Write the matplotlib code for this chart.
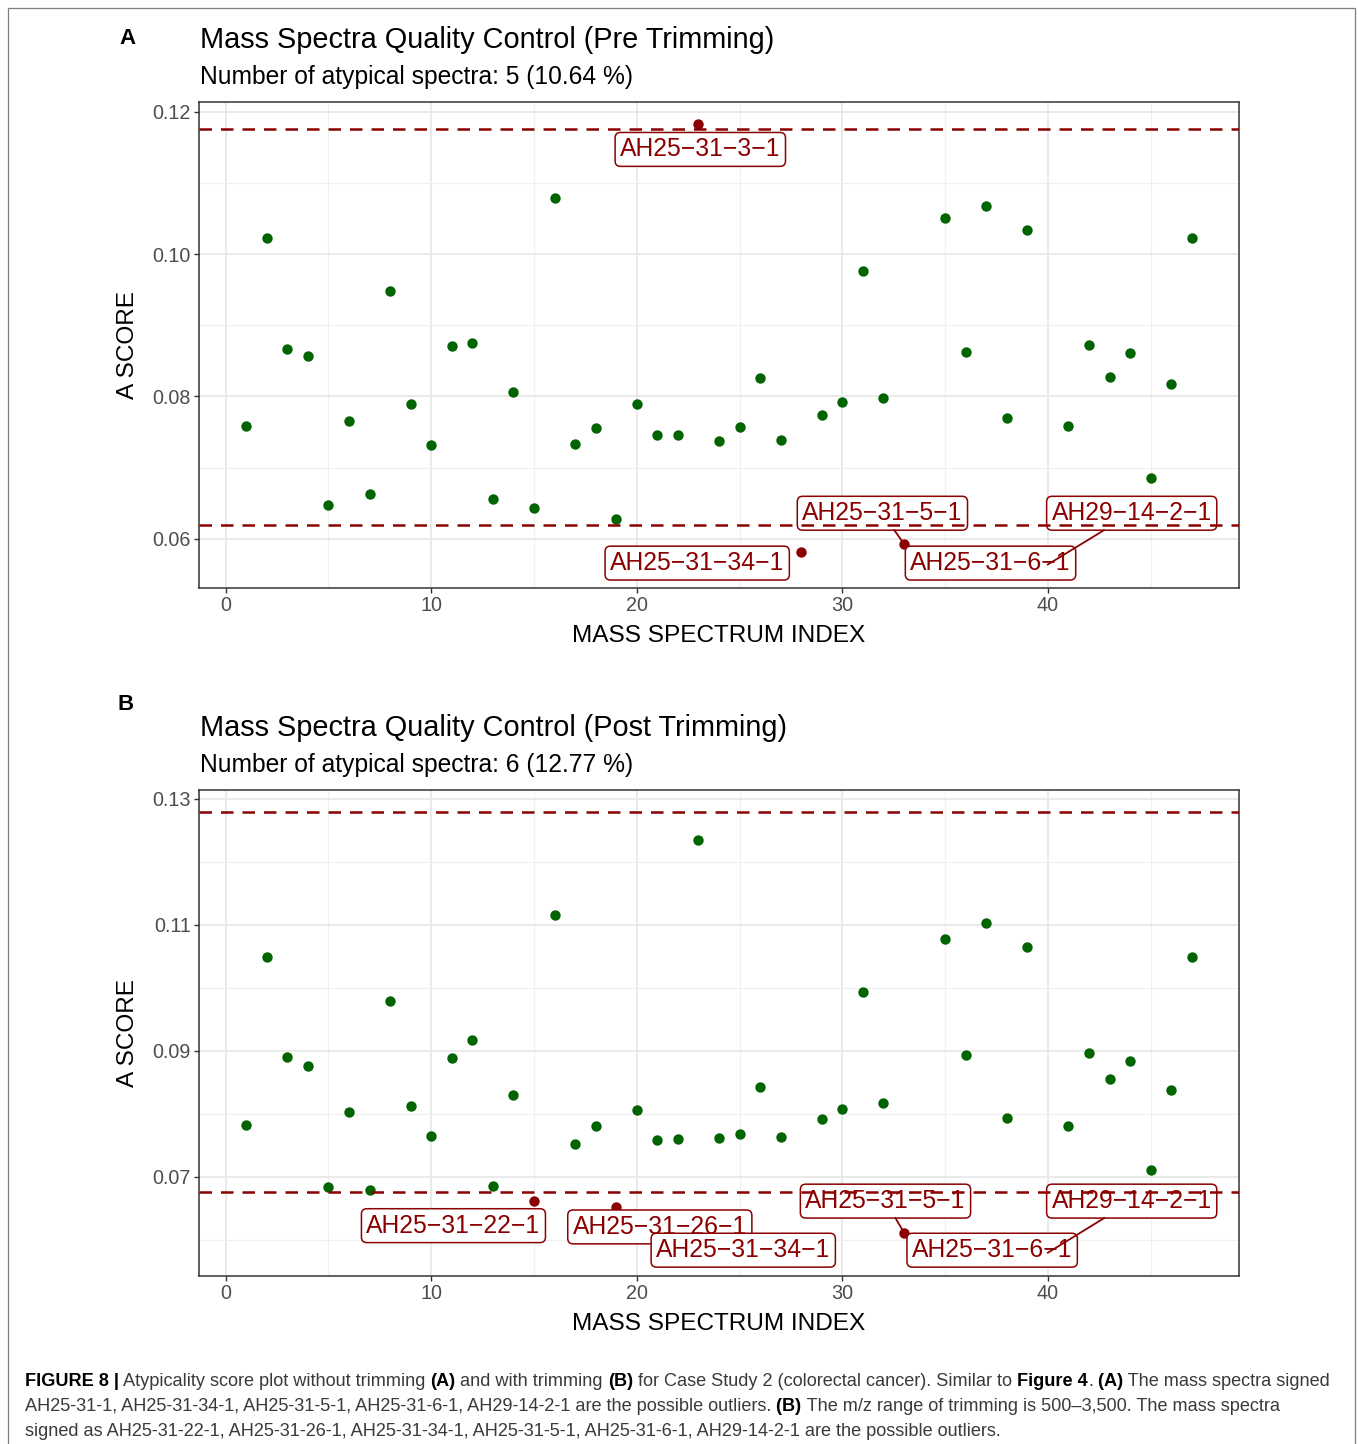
import matplotlib.pyplot as plt
from matplotlib.patches import Rectangle
from matplotlib.ticker import MultipleLocator

plt.rcParams['font.family'] = ['Liberation Sans', 'DejaVu Sans']

# A scores of the 47 spectra, before and after m/z trimming
spectrum_index = list(range(1, 48))
pre_score = [0.0759, 0.1023, 0.0867, 0.0857, 0.0647, 0.0766, 0.0663, 0.0948, 0.0789, 0.0732,
             0.0871, 0.0875, 0.0656, 0.0806, 0.0644, 0.1079, 0.0733, 0.0756, 0.0628, 0.0789,
             0.0746, 0.0746, 0.1183, 0.0737, 0.0757, 0.0826, 0.0739, 0.0582, 0.0774, 0.0792,
             0.0976, 0.0798, 0.0593, 0.0578, 0.1050, 0.0863, 0.1067, 0.0770, 0.1034, 0.0564,
             0.0759, 0.0872, 0.0828, 0.0861, 0.0686, 0.0817, 0.1023]
post_score = [0.0782, 0.1049, 0.0890, 0.0875, 0.0683, 0.0802, 0.0679, 0.0979, 0.0812, 0.0765,
              0.0888, 0.0917, 0.0685, 0.0830, 0.0661, 0.1116, 0.0752, 0.0780, 0.0652, 0.0806,
              0.0758, 0.0760, 0.1235, 0.0762, 0.0768, 0.0842, 0.0763, 0.0586, 0.0792, 0.0807,
              0.0994, 0.0817, 0.0611, 0.0584, 0.1077, 0.0893, 0.1103, 0.0793, 0.1065, 0.0579,
              0.0780, 0.0897, 0.0855, 0.0884, 0.0710, 0.0837, 0.1049]

# lower / upper cut-offs
pre_limits = [0.0620, 0.1175]
post_limits = [0.0676, 0.1279]

# names of the atypical spectra
pre_outlier_idx = [23, 28, 33, 34, 40]
pre_outlier_names = ['AH25-31-3-1', 'AH25-31-34-1', 'AH25-31-5-1', 'AH25-31-6-1', 'AH29-14-2-1']
post_outlier_idx = [15, 19, 28, 33, 34, 40]
post_outlier_names = ['AH25-31-22-1', 'AH25-31-26-1', 'AH25-31-34-1', 'AH25-31-5-1',
                      'AH25-31-6-1', 'AH29-14-2-1']

# where the repelled labels ended up, and which ones got a leader line
pre_label_pos = [(23.09, 0.1147), (22.94, 0.0566), (31.95, 0.0636), (37.21, 0.0566), (44.08, 0.0636)]
pre_leader = [False, False, True, False, True]
post_label_pos = [(11.08, 0.0622), (21.12, 0.0620), (25.18, 0.0583), (32.10, 0.0661),
                  (37.29, 0.0583), (44.08, 0.0661)]
post_leader = [False, False, False, True, False, True]

GREEN = '#006400'
RED = '#8B0000'

W, H = 1358, 1444
fig = plt.figure(figsize=(W / 100, H / 100), dpi=100)


def fx(px):
    return px / W


def fy(py):
    return 1 - py / H


def qc_panel(top, score, limits, out_idx, out_names, label_pos, leader, ylim, yticks, yminor):
    ax = fig.add_axes([fx(199), fy(top + 486), fx(1040), 486 / H])
    ok_x = [i for i, s in zip(spectrum_index, score) if limits[0] <= s <= limits[1]]
    ok_y = [s for s in score if limits[0] <= s <= limits[1]]
    bad_x = [i for i, s in zip(spectrum_index, score) if not limits[0] <= s <= limits[1]]
    bad_y = [s for s in score if not limits[0] <= s <= limits[1]]
    ax.scatter(ok_x, ok_y, s=56, color=GREEN, linewidths=0, zorder=3)
    ax.scatter(bad_x, bad_y, s=56, color=RED, linewidths=0, zorder=3)
    for lim in limits:
        ax.axhline(lim, color=RED, lw=1.8, ls=(0, (5, 3.6)), zorder=6)

    ax.set_xlim(-1.3, 49.3)
    ax.set_ylim(*ylim)
    ax.xaxis.set_major_locator(MultipleLocator(10))
    ax.xaxis.set_minor_locator(MultipleLocator(5))
    ax.set_yticks(yticks)
    ax.set_yticklabels([f'{v:.2f}' for v in yticks])
    ax.set_yticks(yminor, minor=True)
    ax.grid(which='major', color='#E8E8E8', lw=1.3, zorder=0)
    ax.grid(which='minor', color='#F0F0F0', lw=0.8, zorder=0)
    ax.set_axisbelow(True)
    ax.tick_params(which='major', length=3.5, width=1, color='#333333',
                   labelsize=14.2, labelcolor='#4D4D4D', pad=2.5)
    ax.tick_params(which='minor', length=0)
    for sp in ax.spines.values():
        sp.set_color('#333333')
        sp.set_linewidth(1.1)

    labels = []
    for name, (lx, ly) in zip(out_names, label_pos):
        t = ax.text(lx, ly, name.replace('-', '\u2212'), ha='center', va='center', color=RED,
                    fontsize=17.8, zorder=4,
                    bbox=dict(boxstyle='round,pad=0.2,rounding_size=0.22', fc='white',
                              ec=RED, lw=1.1))
        labels.append(t)

    # leader segments from the label edge to its point
    fig.canvas.draw()
    r = fig.canvas.get_renderer()
    for t, i, (lx, ly), lead in zip(labels, out_idx, label_pos, leader):
        if not lead:
            continue
        bb = t.get_bbox_patch().get_window_extent(r)
        cx, cy = ax.transData.transform((lx, ly))
        px, py = ax.transData.transform((i, score[i - 1]))
        dx, dy = px - cx, py - cy
        k = min(bb.width / 2 / abs(dx) if dx else 1e9, bb.height / 2 / abs(dy) if dy else 1e9)
        sx, sy = ax.transData.inverted().transform((cx + dx * k, cy + dy * k))
        ax.plot([sx, i], [sy, score[i - 1]], color=RED, lw=1.3, zorder=5)
    return ax, len(bad_x)


ax_a, n_a = qc_panel(102, pre_score, pre_limits, pre_outlier_idx, pre_outlier_names,
                     pre_label_pos, pre_leader, (0.0531, 0.12136), [0.06, 0.08, 0.10, 0.12],
                     [0.07, 0.09, 0.11])
ax_b, n_b = qc_panel(790, post_score, post_limits, post_outlier_idx, post_outlier_names,
                     post_label_pos, post_leader, (0.0542, 0.13143), [0.07, 0.09, 0.11, 0.13],
                     [0.06, 0.08, 0.10, 0.12])

# titles, axis names and panel letters
for off, word, n in [(0, 'Pre', n_a), (688, 'Post', n_b)]:
    fig.text(fx(200), fy(48 + off), f'Mass Spectra Quality Control ({word} Trimming)',
             fontsize=20.8, va='baseline')
    pct = n / len(spectrum_index) * 100
    fig.text(fx(200), fy(84 + off), f'Number of atypical spectra: {n} ({pct:.2f} %)',
             fontsize=17.7, va='baseline')
    fig.text(fx(719), fy(642 + off), 'MASS SPECTRUM INDEX', fontsize=17.6, ha='center',
             va='baseline')
    fig.text(fx(128), fy(345 + off), 'A SCORE', fontsize=17.6, rotation=90, ha='center',
             va='center')
fig.text(fx(128), fy(38), 'A', fontsize=16, fontweight='bold', ha='center', va='center')
fig.text(fx(126), fy(705), 'B', fontsize=16, fontweight='bold', ha='center', va='center')

# caption with bold runs
caption = [
    [('FIGURE 8 |', True), (' Atypicality score plot without trimming ', False), ('(A)', True),
     (' and with trimming ', False), ('(B)', True),
     (' for Case Study 2 (colorectal cancer). Similar to ', False), ('Figure 4', True),
     ('.', False), (' (A)', True), (' The mass spectra signed', False)],
    [('AH25-31-1, AH25-31-34-1, AH25-31-5-1, AH25-31-6-1, AH29-14-2-1 are the possible outliers.',
      False), (' (B)', True), (' The m/z range of trimming is 500\u20133,500. The mass spectra', False)],
    [('signed as AH25-31-22-1, AH25-31-26-1, AH25-31-34-1, AH25-31-5-1, AH25-31-6-1, '
      'AH29-14-2-1 are the possible outliers.', False)],
]
r = fig.canvas.get_renderer()
for line, base in zip(caption, [1386, 1411, 1436]):
    x = fx(25)
    for txt, bold in line:
        t = fig.text(x, fy(base), txt, fontsize=13.1, va='baseline',
                     fontweight='bold' if bold else 'normal',
                     color='black' if bold else '#3A3A3A')
        x += t.get_window_extent(r).width / W

fig.add_artist(Rectangle((fx(7.5), -0.01), fx(1347.5), fy(8) + 0.01, transform=fig.transFigure,
                         fill=False, ec='#7F7F7F', lw=0.9))

fig.savefig('out.png', dpi=100, facecolor='white')
